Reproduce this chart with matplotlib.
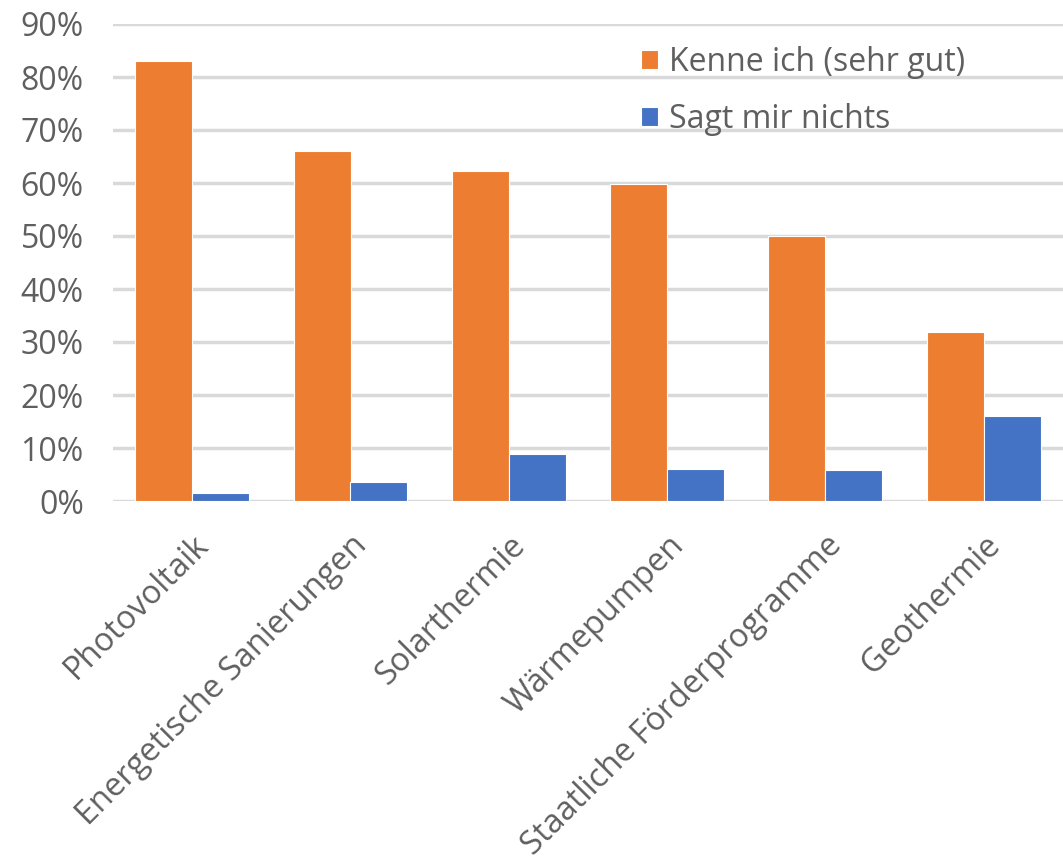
import matplotlib
matplotlib.use("Agg")
import matplotlib.pyplot as plt
import numpy as np
from matplotlib.ticker import PercentFormatter

categories = ["Photovoltaik", "Energetische Sanierungen", "Solarthermie",
              "Wärmepumpen", "Staatliche Förderprogramme", "Geothermie"]
kenne = [83.0, 66.0, 62.2, 59.8, 50.0, 31.9]
sagt_nichts = [1.6, 3.6, 8.8, 6.1, 5.9, 16.1]
series_names = ["Kenne ich (sehr gut)", "Sagt mir nichts"]
yticks = [0, 10, 20, 30, 40, 50, 60, 70, 80, 90]

plt.rcParams['font.family'] = ['Open Sans', 'DejaVu Sans']
text_color = "#5f5f5f"

fig = plt.figure(figsize=(10.63, 8.63), dpi=100)
ax = fig.add_axes([113/1063, (863-501)/863, (1063-113)/1063, (501-24)/863])

x = np.arange(len(categories))
w = 0.36
ax.bar(x - w/2, kenne, width=w, color="#ED7D31", edgecolor="white", linewidth=0.8,
       label=series_names[0], zorder=3)
ax.bar(x + w/2, sagt_nichts, width=w, color="#4472C4", edgecolor="white", linewidth=0.8,
       label=series_names[1], zorder=3)

ax.set_xlim(-0.5, len(categories) - 0.5)
ax.set_ylim(0, 90)
ax.set_yticks(yticks)
ax.yaxis.set_major_formatter(PercentFormatter(decimals=0))
ax.grid(axis="y", color="#d9d9d9", linewidth=2.5, zorder=0)
ax.set_axisbelow(True)
for s in ax.spines.values():
    s.set_visible(False)
ax.tick_params(axis="y", length=0, labelsize=23, labelcolor=text_color, pad=21)
ax.set_xticks(x)
ax.set_xticklabels(categories, rotation=45, ha="right", rotation_mode="anchor")
ax.tick_params(axis="x", length=0, labelsize=23.5, labelcolor=text_color, pad=20)

leg = ax.legend(loc="upper left", bbox_to_anchor=(0.526, 1.015), frameon=False,
                fontsize=23, handlelength=0.52, handleheight=0.52, handletextpad=0.35,
                labelspacing=0.75, labelcolor=text_color)

fig.savefig("out.png", dpi=100, facecolor="white")
